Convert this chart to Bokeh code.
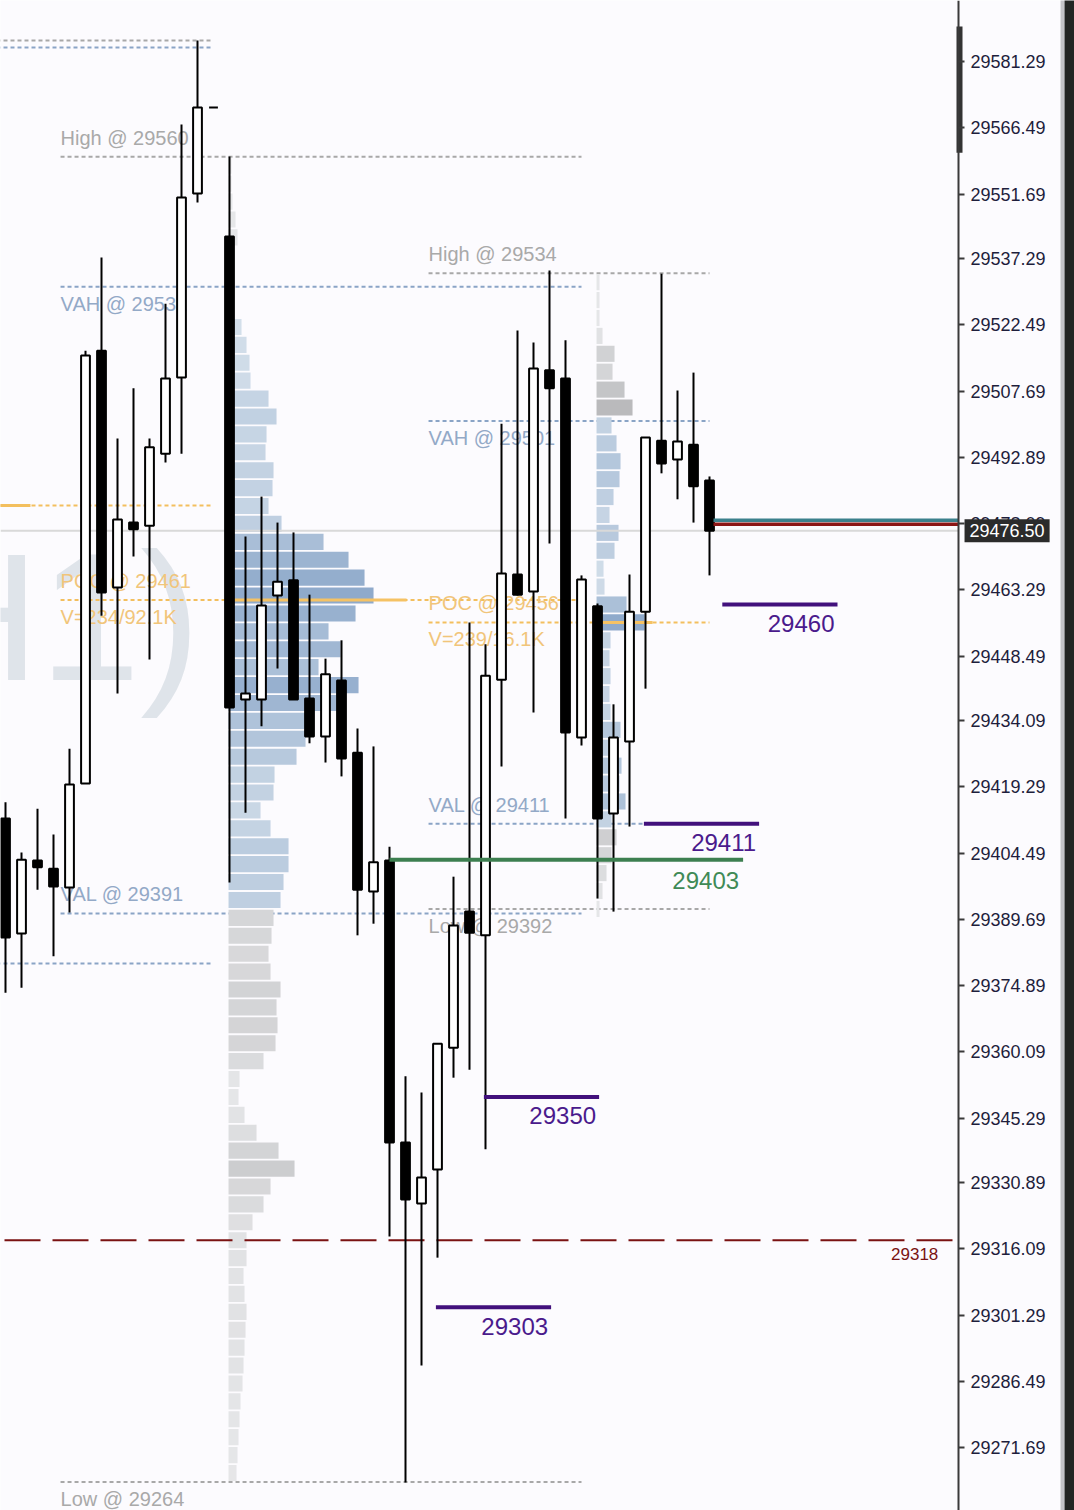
from bokeh.plotting import figure
from bokeh.models import Range1d, FixedTicker, PrintfTickFormatter, Label
from bokeh.core.properties import value
from bokeh.embed import file_html
from bokeh.resources import INLINE

# ---------------- data ----------------
# H1 candles, index = bar number on screen (left to right)
opens = [29412.2, 29386.5, 29402.8, 29401.0, 29396.8, 29420.0, 29516.7, 29463.8, 29478.3, 29477.6,
         29493.7, 29510.7, 29551.8, 29571.0, 29542.2, 29438.8, 29438.8, 29462.0, 29465.4, 29439.0,
         29430.5, 29443.0, 29426.9, 29395.9, 29402.8, 29339.8, 29326.2, 29333.8, 29361.0, 29391.4,
         29386.1, 29443.2, 29466.7, 29462.9, 29512.3, 29510.5, 29430.3, 29459.6, 29413.3, 29429.4,
         29458.4, 29496.6, 29492.4, 29495.7, 29487.7]
highs = [29415.8, 29404.6, 29414.4, 29408.6, 29427.8, 29516.7, 29537.5, 29497.1, 29508.3, 29497.1,
         29527.2, 29567.2, 29586.0, 29571.0, 29560.1, 29475.2, 29484.1, 29478.3, 29476.1, 29462.2,
         29447.9, 29452.0, 29432.3, 29428.3, 29405.9, 29354.6, 29351.0, 29361.9, 29399.2, 29456.0,
         29451.1, 29500.4, 29521.2, 29518.5, 29534.6, 29519.0, 29466.5, 29460.2, 29437.7, 29466.7,
         29497.3, 29533.9, 29507.8, 29511.8, 29488.6]
lows = [29373.3, 29374.4, 29396.3, 29381.4, 29391.2, 29420.0, 29457.5, 29440.1, 29470.7, 29447.7,
        29491.7, 29493.7, 29549.8, 29571.0, 29397.9, 29413.5, 29432.8, 29445.7, 29438.8, 29429.0,
        29424.7, 29421.6, 29386.1, 29388.7, 29318.8, 29263.9, 29290.0, 29314.1, 29354.3, 29356.1,
        29338.3, 29423.8, 29462.0, 29435.9, 29473.6, 29412.2, 29428.5, 29394.3, 29391.4, 29410.4,
        29441.2, 29489.3, 29483.5, 29478.3, 29466.5]
closes = [29385.6, 29403.0, 29401.3, 29397.0, 29419.8, 29515.6, 29462.7, 29479.0, 29476.8, 29495.1,
          29510.5, 29550.9, 29571.0, 29571.0, 29437.0, 29440.1, 29459.8, 29465.1, 29438.8, 29430.5,
          29444.4, 29425.6, 29396.3, 29402.4, 29339.8, 29327.1, 29332.0, 29361.9, 29388.3, 29386.7,
          29444.1, 29466.9, 29462.2, 29512.7, 29508.3, 29431.4, 29465.6, 29412.2, 29430.3, 29458.4,
          29497.3, 29491.5, 29496.4, 29486.4, 29476.5]

price_ticks = [29581.29, 29566.49, 29551.69, 29537.29, 29522.49, 29507.69, 29492.89, 29478.09,
               29463.29, 29448.49, 29434.09, 29419.29, 29404.49, 29389.69, 29374.89, 29360.09,
               29345.29, 29330.89, 29316.09, 29301.29, 29286.49, 29271.69]

current_price = 29476.50
ask_line = 29478.8
bid_line = 29477.9

# previous session (mostly off-screen to the left)
prev_last = 13
prev_high = 29586.0
prev_vah = 29584.4
prev_poc = 29482.1
prev_val = 29379.8

# sessions shown with their volume profiles
session_first = [14, 37]
session_last = [36, 44]
session_high = [29560, 29534]
session_vah = [29531, 29501]
session_poc = [29461, 29456]
session_val = [29391, 29411]
session_low = [29264, 29392]
session_vol_text = ["V=234/92.1K", "V=239/16.1K"]
session_poc_volume = [178, 56]

profile_row = 4.0
profile_b_top = 29560
profile_b_volume = [3, 3, 4, 7, 9, 4, 4, 4, 5, 13,
                    18, 21, 22, 40, 48, 38, 37, 45, 44, 40,
                    53, 95, 120, 136, 145, 127, 100, 112, 90, 130,
                    115, 83, 77, 68, 46, 45, 32, 42, 60, 60,
                    55, 52, 45, 43, 40, 42, 52, 48, 49, 47,
                    35, 11, 10, 16, 28, 50, 66, 42, 35, 24,
                    18, 18, 15, 16, 18, 17, 16, 15, 14, 12,
                    11, 10, 9, 8]
profile_c_top = 29534
profile_c_volume = [3, 3, 3, 6, 18, 16, 28, 36, 15, 20,
                    24, 23, 17, 13, 22, 18, 7, 8, 30, 48,
                    14, 13, 14, 13, 14, 24, 17, 25, 23, 29,
                    15, 20, 15, 10, 6, 3]

level_prices = [29460, 29411, 29350, 29303]
level_start = [44.8, 39.9, 29.9, 26.9]
level_length = 7.2
support_price = 29403
support_from = 24.0
support_to = 46.1
alert_price = 29318

# ---------------- layout / styles ----------------
BG = "#fcfbfe"
FONT = "Liberation Sans"
dot_gray = "#a8a8a8"
dot_blue = "#8aa4c6"
dot_orange = "#f3bf5e"
lab_gray = "#a9a9a9"
lab_blue = "#93a9c7"
lab_orange = "#f1c57a"
purple = "#42107c"
green = "#3d7f50"
darkred = "#7a1212"
VOL_TO_BARS = 1.0 / 16.0
LEAD = 10.56
AXIS_X = 59.5625          # bar-position where the price scale sits
X_LEFT, X_RIGHT = -0.3125, 66.8125

p = figure(width=1074, height=1510, output_backend="svg", toolbar_location=None,
           x_range=Range1d(X_LEFT, X_RIGHT), y_range=Range1d(29257.62, 29594.92),
           x_axis_location=None, y_axis_location="right",
           min_border_left=0, min_border_top=0, min_border_bottom=0, min_border_right=0,
           background_fill_color=BG, border_fill_color=BG, outline_line_color=None)
p.grid.visible = False

ax = p.yaxis[0]
ax.fixed_location = AXIS_X
ax.ticker = FixedTicker(ticks=price_ticks)
ax.formatter = PrintfTickFormatter(format="%.2f")
ax.axis_line_color = "#3a3a3a"
ax.axis_line_width = 2
ax.major_tick_line_color = "#3a3a3a"
ax.major_tick_line_width = 2
ax.major_tick_in = 0
ax.major_tick_out = 6
ax.minor_tick_line_color = None
ax.major_label_text_font = FONT
ax.major_label_text_font_size = "18px"
ax.major_label_text_color = "#1e1e3c"
ax.major_label_standoff = 6

# watermark
p.text(x=[12.19], y=[29457.3], text=["(H1)"], text_font=value(FONT), text_font_size="181px",
       text_color="#dfe4ea", text_align="right", text_baseline="middle")

# previous session lines
p.segment(x0=[-1], x1=[prev_last], y0=[prev_high], y1=[prev_high],
          line_color=dot_gray, line_width=2, line_dash="4 3")
p.segment(x0=[-1] * 2, x1=[prev_last] * 2, y0=[prev_vah, prev_val], y1=[prev_vah, prev_val],
          line_color=dot_blue, line_width=2, line_dash="4 3")
p.segment(x0=[-1], x1=[prev_last], y0=[prev_poc], y1=[prev_poc],
          line_color=dot_orange, line_width=2, line_dash="4 3")
p.segment(x0=[-1], x1=[1.56], y0=[prev_poc], y1=[prev_poc], line_color=dot_orange, line_width=3)


def mix(c1, c2, t):
    t = max(0.0, min(1.0, t))
    return "#%02x%02x%02x" % tuple(int(round(a + (b - a) * t)) for a, b in zip(c1, c2))


VA_LIGHT, VA_DARK = (218, 228, 237), (143, 170, 203)
OUT_LIGHT, OUT_DARK = (233, 234, 236), (170, 170, 172)

profiles = [(profile_b_top, profile_b_volume), (profile_c_top, profile_c_volume)]
for i in range(2):
    x0 = session_first[i] - LEAD
    x1 = session_last[i]
    p.segment(x0=[x0] * 2, x1=[x1] * 2, y0=[session_high[i], session_low[i]],
              y1=[session_high[i], session_low[i]], line_color=dot_gray, line_width=2, line_dash="4 3")
    p.segment(x0=[x0] * 2, x1=[x1] * 2, y0=[session_vah[i], session_val[i]],
              y1=[session_vah[i], session_val[i]], line_color=dot_blue, line_width=2, line_dash="4 3")
    p.segment(x0=[x0], x1=[x1], y0=[session_poc[i]], y1=[session_poc[i]],
              line_color=dot_orange, line_width=2, line_dash="4 3")

    top, vols = profiles[i]
    base = session_first[i] - 0.06
    vmax = float(max(vols))
    centers, rights, colors = [], [], []
    for k, v in enumerate(vols):
        c = top - profile_row * (k + 0.5)
        centers.append(c)
        rights.append(base + v * VOL_TO_BARS)
        if session_val[i] <= c <= session_vah[i]:
            colors.append(mix(VA_LIGHT, VA_DARK, v / vmax))
        else:
            colors.append(mix(OUT_LIGHT, OUT_DARK, v / vmax))
    p.hbar(y=centers, left=base, right=rights, height=profile_row * 0.9,
           fill_color=colors, line_color=None)
    p.segment(x0=[base], x1=[base + session_poc_volume[i] * VOL_TO_BARS],
              y0=[session_poc[i]], y1=[session_poc[i]], line_color="#f5c264", line_width=3)

# current price line and alert line (behind candles)
p.segment(x0=[X_LEFT], x1=[AXIS_X], y0=[current_price], y1=[current_price],
          line_color="#d9d9d9", line_width=2)
p.segment(x0=[-0.0625], x1=[59.19], y0=[alert_price], y1=[alert_price],
          line_color=darkred, line_width=2, line_dash="36 12")

# session labels
for i in range(2):
    lx = session_first[i] - LEAD
    p.text(x=[lx] * 3, y=[session_high[i], session_poc[i], session_val[i]],
           text=["High @ %d" % session_high[i], "POC @ %d" % session_poc[i], "VAL @ %d" % session_val[i]],
           text_color=[lab_gray, lab_orange, lab_blue], text_font=value(FONT), text_font_size="20px",
           text_baseline="middle", y_offset=-19)
    p.text(x=[lx] * 3, y=[session_vah[i], session_poc[i], session_low[i]],
           text=["VAH @ %d" % session_vah[i], session_vol_text[i], "Low @ %d" % session_low[i]],
           text_color=[lab_blue, lab_orange, lab_gray], text_font=value(FONT), text_font_size="20px",
           text_baseline="middle", y_offset=17)

# candles
idx = list(range(len(opens)))
p.segment(x0=idx, x1=idx, y0=lows, y1=highs, line_color="black", line_width=2)
bottoms = [min(o, c) for o, c in zip(opens, closes)]
tops = [max(o, c) for o, c in zip(opens, closes)]
fills = ["white" if c >= o else "black" for o, c in zip(opens, closes)]
p.vbar(x=idx, bottom=bottoms, top=tops, width=0.55, fill_color=fills, line_color="black", line_width=2)

# horizontal levels
p.segment(x0=level_start, x1=[s + level_length for s in level_start], y0=level_prices, y1=level_prices,
          line_color=purple, line_width=4)
p.text(x=[s + level_length for s in level_start], y=level_prices, text=[str(v) for v in level_prices],
       text_color="#4a1a8c", text_font=value(FONT), text_font_size="24px",
       text_align="right", text_baseline="middle", x_offset=-3, y_offset=19)
p.segment(x0=[support_from], x1=[support_to], y0=[support_price], y1=[support_price],
          line_color=green, line_width=4)
p.text(x=[support_to], y=[support_price], text=[str(support_price)], text_color="#3f8a56",
       text_font=value(FONT), text_font_size="24px", text_align="right", text_baseline="middle",
       x_offset=-4, y_offset=21)
p.text(x=[58.3], y=[alert_price], text=[str(alert_price)], text_color=darkred,
       text_font=value(FONT), text_font_size="17px", text_align="right", text_baseline="middle",
       y_offset=14)

# ask / bid lines at the right
p.segment(x0=[44.25], x1=[AXIS_X], y0=[ask_line], y1=[ask_line], line_color="#3b808c", line_width=3.5)
p.segment(x0=[44.25], x1=[AXIS_X], y0=[bid_line], y1=[bid_line], line_color="#8b1515", line_width=3.5)

# scale decorations: visible-range marker on the axis, window edge strips
p.quad(left=[AXIS_X - 0.125], right=[AXIS_X + 0.25], bottom=[29560.9], top=[29589.1],
       fill_color="#333333", line_color=None)
p.quad(left=[65.94, 66.19], right=[66.19, X_RIGHT + 1], bottom=[29250] * 2, top=[29600] * 2,
       fill_color=["#c4c4c8", "#232523"], line_color=None)

# current price box on the axis
p.add_layout(Label(x=59.94, y=current_price, text="%.2f" % current_price, text_font=FONT,
                   text_font_size="18px", text_color="white", text_baseline="middle",
                   background_fill_color="#2b2b2b", padding=5))

open("out.html", "w").write(file_html(p, INLINE))
